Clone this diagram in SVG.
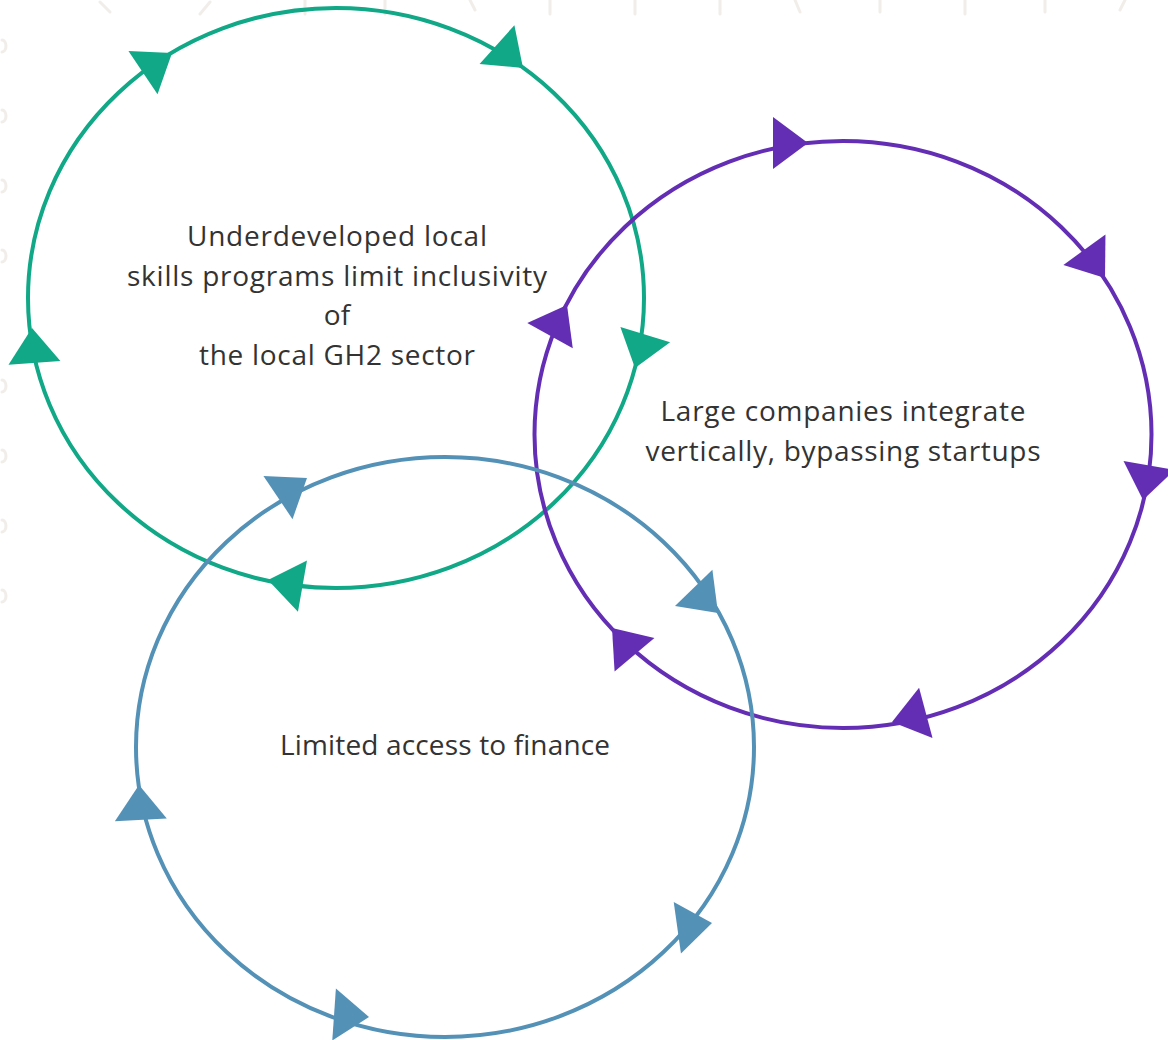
<svg xmlns="http://www.w3.org/2000/svg" xmlns:xlink="http://www.w3.org/1999/xlink" width="1168" height="1040" viewBox="0 0 1168 1040">
<style>
.loop{fill:none;stroke-width:4}
.g{stroke:#10a886}.p{stroke:#642eb4}.b{stroke:#5491b7}
.gf{fill:#10a886}.pf{fill:#642eb4}.bf{fill:#5491b7}
.lbl{font-family:"Open Sans","Noto Sans","Liberation Sans",sans-serif;font-size:28px;fill:#333333;text-anchor:middle}
.bg{stroke:#f1eeea;stroke-width:3;fill:none;stroke-linecap:round}
</style>
<defs>
<polygon id="ah" points="0,0 -35,-26 -35,26"/>
</defs>
<rect width="1168" height="1040" fill="#ffffff"/>
<g id="background">
<path class="bg" d="M100,2 L110,12 M210,2 L200,14 M305,0 L305,14 M385,0 L385,14 M470,0 L475,10 M550,0 L550,14 M635,0 L635,14 M720,0 L720,14 M795,0 L800,12 M880,0 L880,12 M965,0 L965,14 M1045,0 L1045,12 M1125,0 L1120,10"/>
<path class="bg" d="M2,40 A4,6 0 0 1 2,52 M2,110 A4,6 0 0 1 2,122 M2,180 A4,6 0 0 1 2,192 M2,250 A4,6 0 0 1 2,262 M2,380 A4,6 0 0 1 2,392 M2,450 A4,6 0 0 1 2,462 M2,520 A4,6 0 0 1 2,532 M2,590 A4,6 0 0 1 2,602"/>
</g>
<g id="connectors">
<ellipse class="loop g" cx="336" cy="298" rx="308" ry="290"/>
<ellipse class="loop p" cx="843" cy="434.5" rx="308.5" ry="293.5"/>
<ellipse class="loop b" cx="445" cy="747" rx="309" ry="290"/>
<use xlink:href="#ah" class="gf" transform="translate(172,53) rotate(-34)"/>
<use xlink:href="#ah" class="gf" transform="translate(523,68) rotate(42)"/>
<use xlink:href="#ah" class="gf" transform="translate(635,368) rotate(107)"/>
<use xlink:href="#ah" class="gf" transform="translate(268,580) rotate(190)"/>
<use xlink:href="#ah" class="gf" transform="translate(32,328) rotate(-94)"/>
<use xlink:href="#ah" class="pf" transform="translate(808,143) rotate(0)"/>
<use xlink:href="#ah" class="pf" transform="translate(1105,278) rotate(54)"/>
<use xlink:href="#ah" class="pf" transform="translate(1143,500) rotate(100)"/>
<use xlink:href="#ah" class="pf" transform="translate(892,722) rotate(165)"/>
<use xlink:href="#ah" class="pf" transform="translate(612,628) rotate(-130)"/>
<use xlink:href="#ah" class="pf" transform="translate(567,305) rotate(-61)"/>
<use xlink:href="#ah" class="bf" transform="translate(307,478) rotate(-34)"/>
<use xlink:href="#ah" class="bf" transform="translate(718,613) rotate(46)"/>
<use xlink:href="#ah" class="bf" transform="translate(139,785) rotate(-93)"/>
<use xlink:href="#ah" class="bf" transform="translate(369,1017) rotate(4)"/>
<use xlink:href="#ah" class="bf" transform="translate(712,923) rotate(-8)"/>
</g>
<g id="node-skills">
<text class="lbl" x="337" y="246" textLength="300" lengthAdjust="spacing">Underdeveloped local</text>
<text class="lbl" x="337" y="286" textLength="420" lengthAdjust="spacing">skills programs limit inclusivity</text>
<text class="lbl" x="337" y="325">of</text>
<text class="lbl" x="337" y="365" textLength="276" lengthAdjust="spacing">the local GH2 sector</text>
</g>
<g id="node-companies">
<text class="lbl" x="843" y="421" textLength="365" lengthAdjust="spacing">Large companies integrate</text>
<text class="lbl" x="843" y="461" textLength="395" lengthAdjust="spacing">vertically, bypassing startups</text>
</g>
<g id="node-finance">
<text class="lbl" x="445" y="755" textLength="330" lengthAdjust="spacing">Limited access to finance</text>
</g>
</svg>
